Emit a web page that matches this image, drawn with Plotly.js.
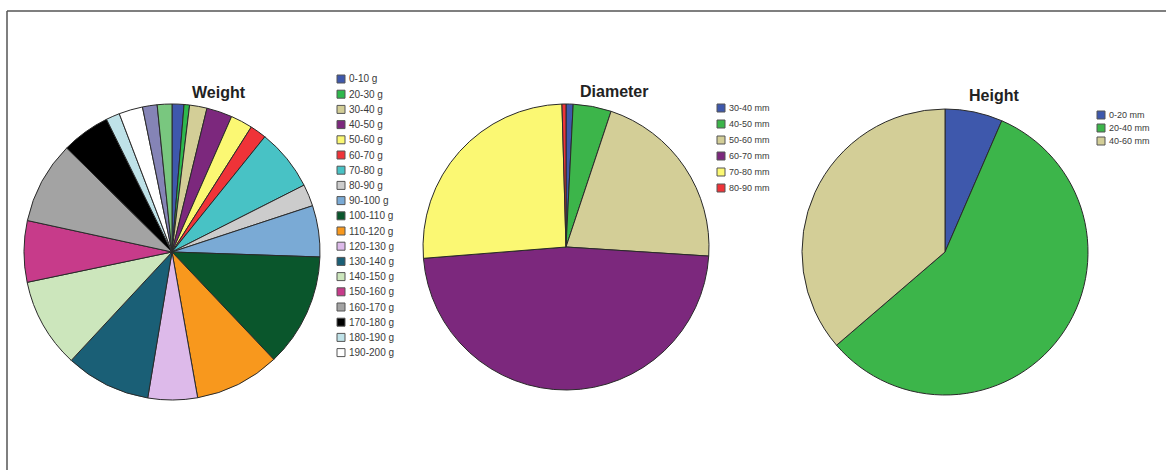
<!DOCTYPE html>
<html>
<head>
<meta charset="utf-8">
<script src="https://cdn.plot.ly/plotly-3.0.1.min.js"></script>
<style>
  html, body { margin: 0; padding: 0; background: #ffffff; }
  #chart { width: 1166px; height: 470px; }
</style>
</head>
<body>
<div id="chart"></div>
<script>
// ---------------- data ----------------
const weightLabels = ['0-10 g','20-30 g','30-40 g','40-50 g','50-60 g','60-70 g','70-80 g','80-90 g','90-100 g',
  '100-110 g','110-120 g','120-130 g','130-140 g','140-150 g','150-160 g','160-170 g','170-180 g','180-190 g','190-200 g',
  '200-210 g','210-220 g'];
const weightValues = [1.3, 0.6, 1.9, 2.8, 2.4, 1.8, 6.75, 2.4, 5.6, 12.4, 9.3, 5.4, 9.3, 9.8, 6.7, 9.0, 5.3, 1.5, 2.6, 1.6, 1.6];
const weightColors = ['#3e58ac','#2eb84c','#d3ce97','#7c287d','#fbf873','#ef3338','#48c2c5','#cccccc','#7aaad5',
  '#0a562c','#f8981d','#ddbaea','#1a5f76','#cce6bc','#c73b8a','#a3a3a3','#000000','#bfe2e8','#ffffff',
  '#8584b6','#79c77f'];
const weightLegendLabels = weightLabels.slice(0, 19);

const diameterLabels = ['30-40 mm','40-50 mm','50-60 mm','60-70 mm','70-80 mm','80-90 mm'];
const diameterValues = [0.8, 4.3, 20.9, 47.7, 25.8, 0.45];
const diameterColors = ['#3e58ac','#3cb54a','#d3ce97','#7c287d','#fbf873','#ef3338'];

const heightLabels = ['0-20 mm','20-40 mm','40-60 mm'];
const heightValues = [6.5, 57.2, 36.3];
const heightColors = ['#3e58ac','#3cb54a','#d3ce97'];

const titles = ['Weight', 'Diameter', 'Height'];

// ---------------- layout helpers ----------------
const W = 1166, H = 470;
const px = x => x / W;
const py = y => 1 - y / H;

function pieTrace(labels, values, colors, cx, cy, r) {
  return {
    type: 'pie',
    labels: labels,
    values: values,
    sort: false,
    direction: 'clockwise',
    rotation: 0,
    textinfo: 'none',
    hoverinfo: 'label+percent',
    showlegend: false,
    marker: { colors: colors, line: { color: '#2a2a2a', width: 1 } },
    domain: { x: [px(cx - r), px(cx + r)], y: [py(cy + r), py(cy - r)] }
  };
}

const data = [
  pieTrace(weightLabels, weightValues, weightColors, 172, 252, 148),
  pieTrace(diameterLabels, diameterValues, diameterColors, 566, 247, 143),
  pieTrace(heightLabels, heightValues, heightColors, 945, 252, 143)
];

const annotations = [];
const shapes = [];

// titles
const titlePos = [[219, 92], [614, 91], [994, 95]];
titles.forEach((t, i) => {
  annotations.push({
    xref: 'paper', yref: 'paper', x: px(titlePos[i][0]), y: py(titlePos[i][1]),
    xanchor: 'center', yanchor: 'middle', showarrow: false,
    text: '<b>' + t + '</b>',
    font: { family: 'Liberation Sans, Arial, sans-serif', size: 16, color: '#222222' }
  });
});

// manual legends
function addLegend(labels, colors, x0, y0, step, box, fontSize) {
  labels.forEach((lab, i) => {
    const yc = y0 + i * step;
    shapes.push({
      type: 'rect', xref: 'paper', yref: 'paper',
      x0: px(x0), x1: px(x0 + box), y0: py(yc + box / 2), y1: py(yc - box / 2),
      fillcolor: colors[i], line: { color: '#555555', width: 1 }
    });
    annotations.push({
      xref: 'paper', yref: 'paper', x: px(x0 + box + 2), y: py(yc),
      xanchor: 'left', yanchor: 'middle', showarrow: false, text: lab,
      font: { family: 'Liberation Sans, Arial, sans-serif', size: fontSize, color: '#3a3a3a' }
    });
  });
}
addLegend(weightLegendLabels, weightColors, 337, 79, 15.2, 8, 10);
addLegend(diameterLabels, diameterColors, 717, 108, 16, 8, 9);
addLegend(heightLabels, heightColors, 1097, 115, 13, 8, 9);

// frame lines
shapes.push({ type: 'line', xref: 'paper', yref: 'paper', x0: px(7), x1: px(W), y0: py(11), y1: py(11),
  line: { color: '#555555', width: 1.5 } });
shapes.push({ type: 'line', xref: 'paper', yref: 'paper', x0: px(7), x1: px(7), y0: py(11), y1: py(H),
  line: { color: '#555555', width: 1.5 } });

const layout = {
  width: W, height: H,
  margin: { l: 0, r: 0, t: 0, b: 0 },
  paper_bgcolor: '#ffffff',
  plot_bgcolor: '#ffffff',
  showlegend: false,
  annotations: annotations,
  shapes: shapes
};

Plotly.newPlot('chart', data, layout, { displayModeBar: false, staticPlot: true });
</script>
</body>
</html>
